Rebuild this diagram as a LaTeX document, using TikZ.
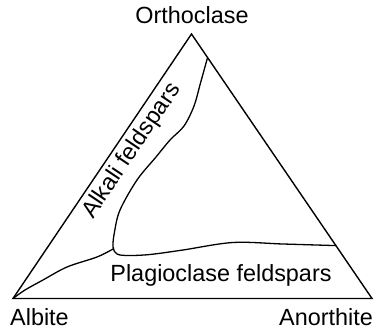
\documentclass[tikz,border=0pt]{standalone}
\usepackage{fontspec}
\setmainfont{Liberation Sans}
\usetikzlibrary{calc}
\begin{document}
\begin{tikzpicture}[
    x=1pt, y=-1pt,
    every node/.style={font=\fontsize{23.4}{28}\selectfont, inner sep=0pt},
    % Triangle edge style
    side/.style={line width=1.4pt, line join=miter},
    % Field boundary style
    boundary/.style={line width=1.3pt, line cap=round, line join=round},
    % Field label style
    field label/.style={anchor=base}
]
\useasboundingbox (0,0) rectangle (375,331);

% --- Corners ---
\coordinate (or) at (191.5,34);
\coordinate (ab) at (13,298.5);
\coordinate (an) at (372,298.5);

% --- Vertex labels ---
\node[anchor=base] (orlabel) at (192,24) {Orthoclase};
\node[anchor=base west] (ablabel) at (10,325) {Albite};
\node[anchor=base east] (anlabel) at (373,325) {Anorthite};

% --- Triangle ---
\draw[side] (ab) -- (or) -- (an) -- cycle;

% --- Field boundaries ---
\coordinate (kfs) at ($(or)!0.089!(an)$);
\coordinate (pl) at ($(or)!0.8!(an)$);
\coordinate (jn) at (113,249);

% Alkali / plagioclase boundary, rounded at the junction
\draw[boundary] plot[smooth, tension=0.55] coordinates {
    (kfs) (200.5,83) (194,106) (184,126) (170,140) (156,157)
    (137,180) (120,210) (114.5,232) (113,247) (117,254)
    (128,255.5) (150,254.5) (183,250) (233,242.5) (283,244) (pl)};
% Branch down to Albite
\draw[boundary] plot[smooth, tension=0.55] coordinates {
    (jn) (97,257) (67,267) (43,280) (25,290) (ab)};

% --- Field labels ---
\node[rotate=56] (alkali) at (132,151) {Alkali feldspars};
\node[field label] (plag) at (221,281) {Plagioclase feldspars};

\end{tikzpicture}
\end{document}
